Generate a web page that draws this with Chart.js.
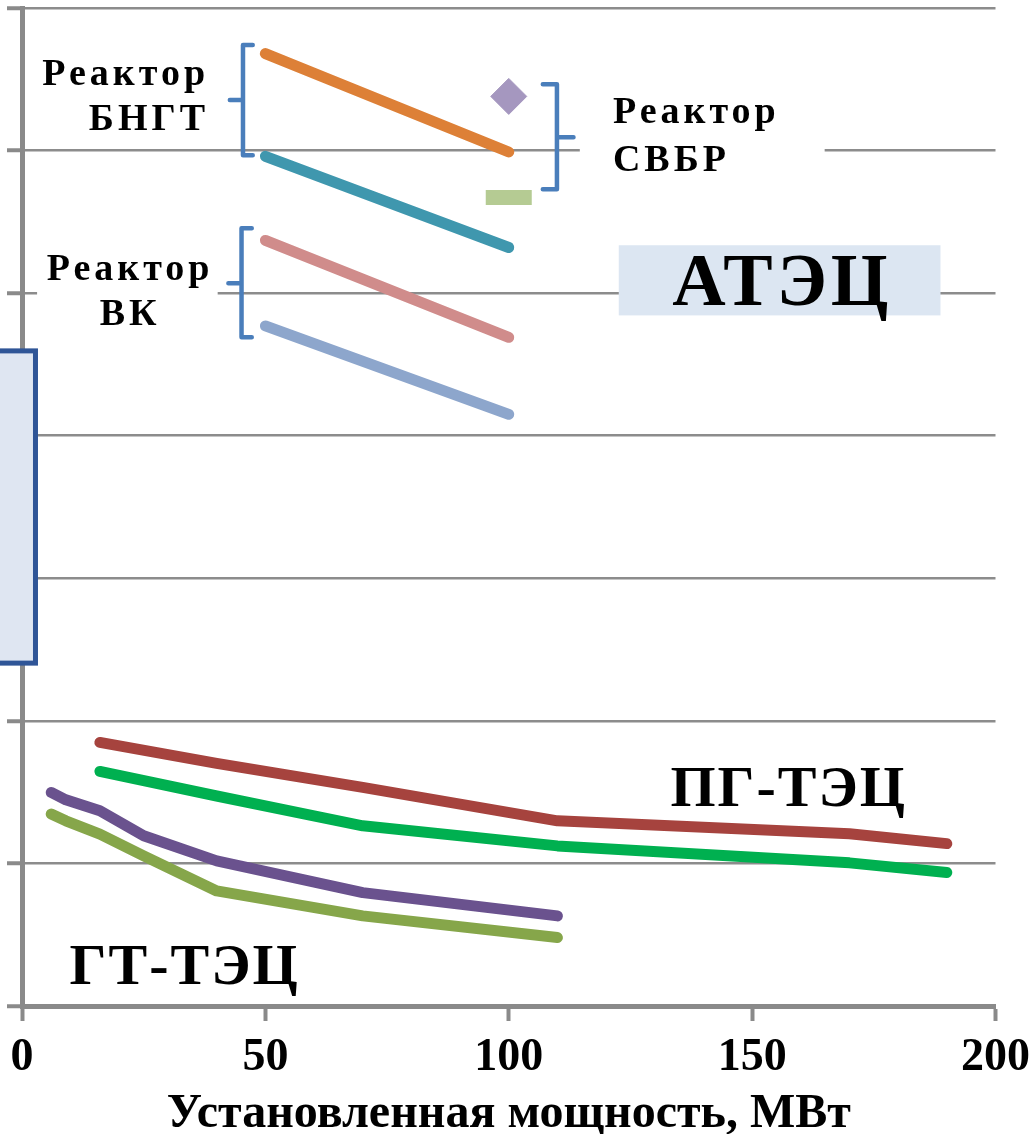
<!DOCTYPE html>
<html>
<head>
<meta charset="utf-8">
<script src="https://cdn.jsdelivr.net/npm/chart.js@4.4.1/dist/chart.umd.min.js"></script>
<style>
  body { margin: 0; background: #fff; }
  canvas { display: block; }
</style>
</head>
<body>
<canvas id="chart" width="1034" height="1134"></canvas>
<script>
// x ticks
const xTicks = [0, 50, 100, 150, 200];

// АТЭЦ - reactors (x = MW)
const reactorX = [50, 100];
const bngtHigh = [6.68, 5.99];
const bngtLow = [5.96, 5.32];
const vkHigh = [5.37, 4.69];
const vkLow = [4.77, 4.15];
const svbrX = [100];
const svbrHigh = [6.38];
const svbrLow = [5.67];

// ПГ-ТЭЦ
const pgX = [16, 40, 70, 110, 170, 190];
const pgHigh = [1.849, 1.702, 1.533, 1.299, 1.208, 1.139];
const pgLow = [1.645, 1.473, 1.264, 1.123, 1.004, 0.936];

// ГТ-ТЭЦ
const gtX = [6, 9, 16, 25, 40, 70, 110];
const gtHigh = [1.498, 1.446, 1.369, 1.194, 1.018, 0.795, 0.632];
const gtLow = [1.346, 1.299, 1.206, 1.053, 0.807, 0.632, 0.480];

const SERIF = "'Liberation Serif', 'Times New Roman', serif";
const GRID = '#8c8c8c';

function pts(xs, ys) {
    return xs.map((v, i) => ({ x: v, y: ys[i] }));
}

function line(xs, ys, color) {
    return {
        data: pts(xs, ys),
        showLine: true,
        borderColor: color,
        backgroundColor: color,
        borderWidth: 11,
        borderCapStyle: 'round',
        borderJoinStyle: 'round',
        pointRadius: 0,
        tension: 0
    };
}

// labels and brackets drawn on top, placed in data units
const notesPlugin = {
    id: 'notes',
    afterDraw(chart) {
        const ctx = chart.ctx;
        const X = v => chart.scales.x.getPixelForValue(v);
        const Y = v => chart.scales.y.getPixelForValue(v);
        ctx.save();

        // white label backgrounds
        ctx.fillStyle = '#ffffff';
        ctx.fillRect(X(3.1), Y(5.37), X(40.2) - X(3.1), Y(4.74) - Y(5.37));
        ctx.fillRect(X(114.6), Y(6.39), X(164.9) - X(114.6), Y(5.79) - Y(6.39));

        // АТЭЦ box
        ctx.fillStyle = '#dce6f2';
        ctx.fillRect(X(122.6), Y(5.336), X(188.7) - X(122.6), Y(4.844) - Y(5.336));

        // cropped axis title box at left
        ctx.fillStyle = '#dfe6f2';
        ctx.strokeStyle = '#2f5597';
        ctx.lineWidth = 5;
        ctx.fillRect(X(-8), Y(4.595), X(2.77) - X(-8), Y(2.405) - Y(4.595));
        ctx.strokeRect(X(-8), Y(4.595), X(2.77) - X(-8), Y(2.405) - Y(4.595));

        // brackets
        ctx.strokeStyle = '#4a7ebb';
        ctx.lineWidth = 4.5;
        ctx.lineJoin = 'round';
        ctx.lineCap = 'round';
        function bracket(xv, xs, xn, yTop, yMid, yBot) {
            ctx.beginPath();
            ctx.moveTo(X(xs), Y(yTop));
            ctx.lineTo(X(xv), Y(yTop));
            ctx.lineTo(X(xv), Y(yBot));
            ctx.lineTo(X(xs), Y(yBot));
            ctx.moveTo(X(xv), Y(yMid));
            ctx.lineTo(X(xn), Y(yMid));
            ctx.stroke();
        }
        bracket(45.4, 47.4, 42.7, 6.74, 6.354, 5.968);
        bracket(45.1, 47.2, 42.4, 5.455, 5.069, 4.69);
        bracket(109.9, 107.0, 113.3, 6.466, 6.094, 5.729);

        // text
        ctx.fillStyle = '#000';
        ctx.textBaseline = 'alphabetic';
        ctx.font = 'bold 38px ' + SERIF;
        ctx.letterSpacing = '4px';
        ctx.textAlign = 'right';
        ctx.fillText('Реактор', X(37.6) + 4, Y(6.459));
        ctx.fillText('БНГТ', X(37.6) + 4, Y(6.143));
        ctx.textAlign = 'center';
        ctx.fillText('Реактор', X(21.8) + 2, Y(5.09));
        ctx.fillText('ВК', X(21.8) + 2, Y(4.774));
        ctx.textAlign = 'left';
        ctx.fillText('Реактор', X(121.4), Y(6.19));
        ctx.fillText('СВБР', X(121.4), Y(5.86));

        ctx.textAlign = 'center';
        ctx.letterSpacing = '4px';
        ctx.font = 'bold 74px ' + SERIF;
        ctx.fillText('АТЭЦ', X(155.8) + 2, Y(4.915));
        ctx.letterSpacing = '2px';
        ctx.font = 'bold 58px ' + SERIF;
        ctx.fillText('ПГ-ТЭЦ', X(157.3) + 1, Y(1.404));
        ctx.fillText('ГТ-ТЭЦ', X(33.2) + 1, Y(0.154));

        ctx.restore();
    }
};

new Chart(document.getElementById('chart'), {
    type: 'scatter',
    data: {
        datasets: [
            line(reactorX, bngtHigh, '#dd8037'),
            line(reactorX, bngtLow, '#3f97ae'),
            line(reactorX, vkHigh, '#d08c8b'),
            line(reactorX, vkLow, '#8da6cc'),
            {
                data: pts(svbrX, svbrHigh),
                pointStyle: 'rectRot',
                pointRadius: 18,
                backgroundColor: '#a597bf',
                borderColor: '#a597bf',
                pointBorderWidth: 1
            },
            {
                data: pts(svbrX, svbrLow),
                pointStyle: 'line',
                pointRadius: 23,
                borderColor: '#b5cb93',
                backgroundColor: '#b5cb93',
                pointBorderWidth: 15
            },
            line(pgX, pgHigh, '#a6433e'),
            line(pgX, pgLow, '#00b050'),
            line(gtX, gtHigh, '#6a528e'),
            line(gtX, gtLow, '#86a64a')
        ]
    },
    options: {
        responsive: false,
        animation: false,
        layout: { autoPadding: false, padding: { left: 7, top: 8, right: 38, bottom: -1 } },
        plugins: {
            legend: { display: false },
            tooltip: { enabled: false }
        },
        scales: {
            x: {
                type: 'linear',
                min: 0,
                max: 200,
                afterBuildTicks: axis => { axis.ticks = xTicks.map(v => ({ value: v })); },
                ticks: {
                    color: '#000',
                    padding: 4,
                    maxRotation: 0,
                    font: { family: SERIF, size: 46, weight: 'bold', lineHeight: 1.435 }
                },
                grid: {
                    drawOnChartArea: false,
                    drawTicks: true,
                    tickLength: 15,
                    tickWidth: 4,
                    tickColor: '#8a8a8a'
                },
                border: { color: '#8a8a8a', width: 5 },
                title: {
                    display: true,
                    text: 'Установленная мощность, МВт',
                    color: '#000',
                    padding: { top: 0, bottom: 0 },
                    font: { family: SERIF, size: 48, weight: 'bold', lineHeight: 0.833 }
                }
            },
            y: {
                min: 0,
                max: 7,
                ticks: { display: false, stepSize: 1 },
                grid: {
                    color: GRID,
                    lineWidth: 2.5,
                    tickLength: 15,
                    tickWidth: 4,
                    tickColor: '#8a8a8a'
                },
                border: { color: '#8a8a8a', width: 5 }
            }
        }
    },
    plugins: [notesPlugin]
});
</script>
</body>
</html>
